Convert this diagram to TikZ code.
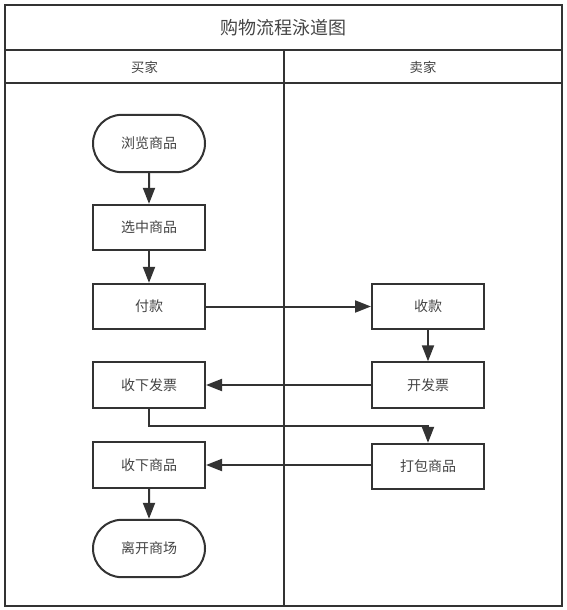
\documentclass[tikz,border=0pt]{standalone}
\usepackage{fontspec}
\setmainfont{Noto Sans CJK SC}
\usetikzlibrary{arrows.meta,shapes.misc}
\definecolor{ln}{HTML}{333333}
\definecolor{tx}{HTML}{444444}
\begin{document}
\begin{tikzpicture}[x=0.75pt,y=-0.75pt,
  lane/.style={draw=ln,line width=1.5pt},
  proc/.style={draw=ln,line width=1.5pt,minimum width=84pt,minimum height=34pt,text=tx,font=\fontsize{10.5pt}{12pt}\selectfont,inner sep=0pt},
  term/.style={proc,rounded rectangle,minimum height=43pt},
  flow/.style={draw=ln,line width=1.5pt,-{Triangle[length=12pt,width=9pt]}}]
\useasboundingbox (0,0) rectangle (567,610);
% frame
\draw[lane] (5,5) rectangle (562,606);
\draw[lane] (5,50) -- (562,50);
\draw[lane] (5,83) -- (562,83);
\draw[lane] (284,50) -- (284,606);
\node[text=tx,font=\fontsize{13.5pt}{15pt}\selectfont] (title) at (283.5,28) {购物流程泳道图};
\node[text=tx,font=\fontsize{10pt}{12pt}\selectfont] (buyer) at (144.5,67) {买家};
\node[text=tx,font=\fontsize{10pt}{12pt}\selectfont] (seller) at (423,67) {卖家};
% buyer lane
\node[term] (browse) at (149,143.5) {浏览商品};
\node[proc] (select) at (149,227.5) {选中商品};
\node[proc] (pay) at (149,306.5) {付款};
\node[proc] (inv) at (149,385) {收下发票};
\node[proc] (goods) at (149,465) {收下商品};
\node[term] (leave) at (149,548.5) {离开商场};
% seller lane
\node[proc] (recv) at (428,306.5) {收款};
\node[proc] (issue) at (428,385) {开发票};
\node[proc] (pack) at (428,466.5) {打包商品};
\coordinate (bend1) at (149,426);
\coordinate (bend2) at (428,426);
% connectors
\draw[flow] (browse) -- (select);
\draw[flow] (select) -- (pay);
\draw[flow] (pay) -- (recv);
\draw[flow] (recv) -- (issue);
\draw[flow] (issue.west) -- (inv.east);
\draw[flow] (inv.south) -- (bend1) -- (bend2) -- (pack.north);
\draw[flow] (pack.west |- goods.east) -- (goods.east);
\draw[flow] (goods) -- (leave);
\end{tikzpicture}
\end{document}
